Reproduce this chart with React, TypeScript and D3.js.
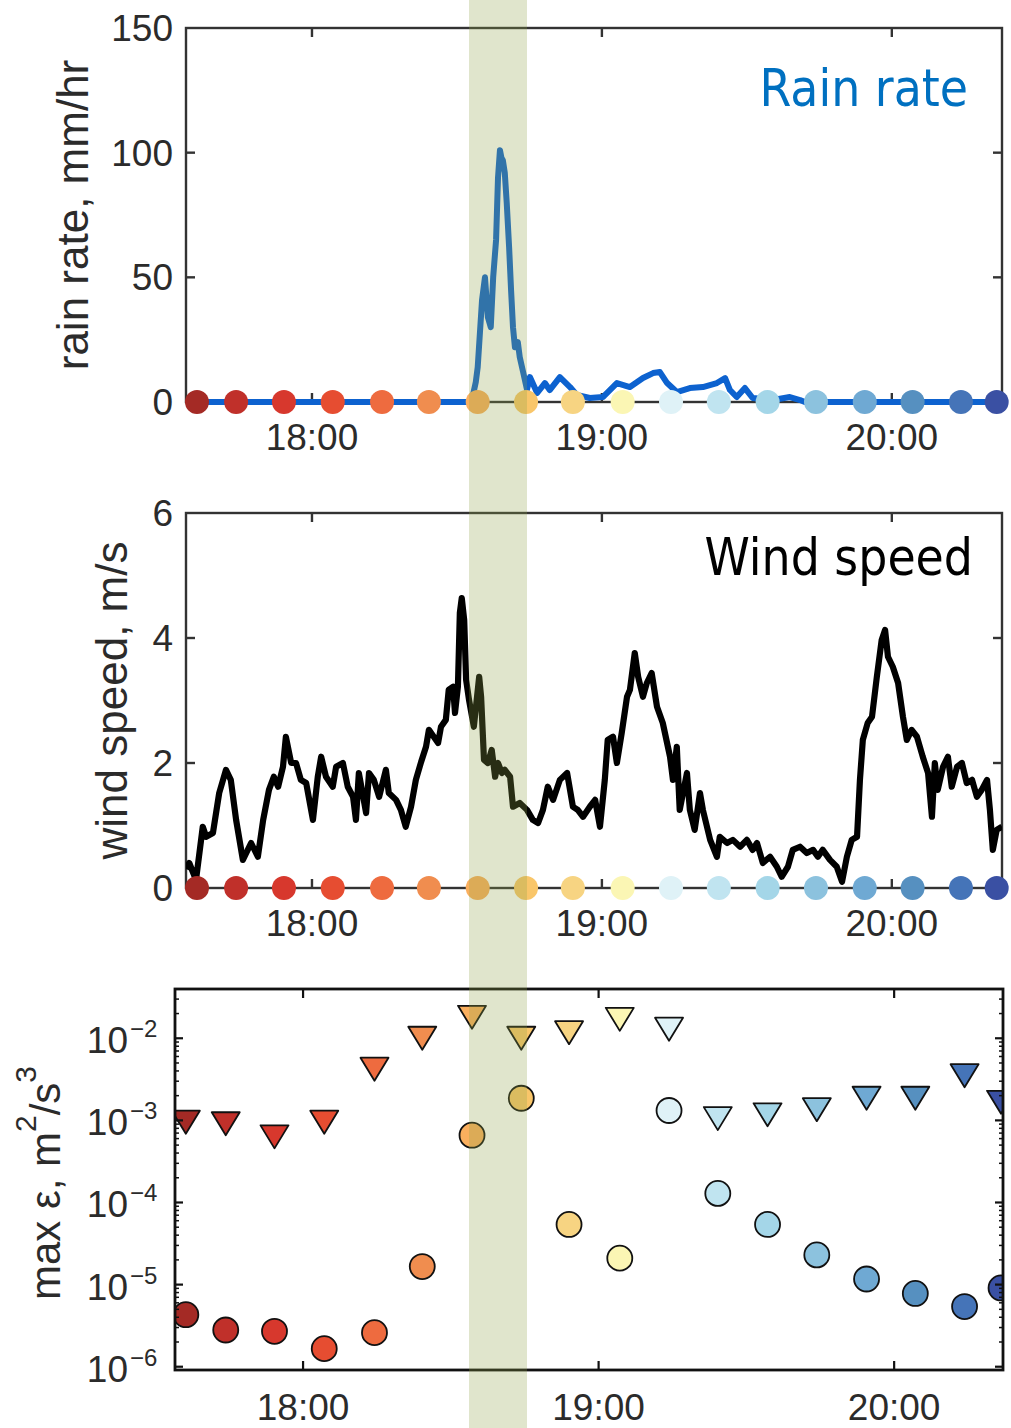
import React from 'react';
import * as d3 from 'd3';

// ---------- data (times in minutes after 18:00) ----------
const hourTicks = [0, 60, 120];
const hourLabels = ['18:00', '19:00', '20:00'];

const sampleTimes = [-23.8, -15.7, -5.8, 4.3, 14.5, 24.2, 34.3, 44.3, 54.0, 64.3, 74.3, 84.2, 94.3, 104.3, 114.4, 124.3, 134.3, 141.7];
const sampleColors = ['#a42a25', '#c0302a', '#d7382d', '#e64d31', '#ee6b3f', '#f08d4f', '#faaf5e', '#f9c66a', '#f7d482', '#fbf6b4', '#dff2f7', '#c0e4f0', '#a4d6e8', '#8cc2de', '#6fa9d3', '#5690c0', '#4574b8', '#3a50a3'];

const rainTimes = [-26.1, 32.6, 33.1, 33.9, 34.3, 35.2, 35.8, 36.4, 37.0, 37.5, 38.1, 38.5, 38.9, 39.2, 39.5, 39.9, 40.3, 40.8, 41.2, 41.6, 42.0, 42.6, 43.0, 43.7, 44.5, 45.1, 46.6, 48.2, 49.2, 51.3, 53.4, 54.8, 57.5, 60.2, 63.1, 65.8, 68.5, 70.6, 72.0, 73.5, 75.5, 78.2, 80.9, 83.8, 85.5, 86.5, 87.9, 89.6, 91.2, 95.4, 98.9, 101.0, 102.0, 142.8];
const rainValues = [0, 0, 0.8, 8, 14, 41, 50, 34, 30, 50, 65, 90, 101, 98, 97, 92, 80, 62, 45, 30, 22, 24, 18, 12, 5, 10, 3.6, 7.6, 4.8, 10, 6, 2.8, 1.6, 2, 7.6, 6, 9.6, 11.6, 12, 7.6, 4, 5.6, 6, 7.6, 9.6, 4.8, 2, 5.6, 1.6, 0.8, 2, 0.8, 0, 0];

const windTimes = [-26.0, -25.4, -24.0, -22.6, -21.9, -20.5, -19.2, -17.8, -16.8, -15.7, -14.3, -12.6, -11.2, -10.1, -8.9, -7.9, -7.0, -6.0, -5.4, -4.3, -3.3, -2.3, -1.2, 0.2, 1.2, 1.9, 2.9, 4.3, 5.0, 6.4, 7.4, 8.5, 9.1, 9.7, 10.6, 11.2, 11.8, 12.8, 13.9, 15.3, 15.9, 17.4, 18.4, 19.4, 20.5, 21.5, 22.6, 23.6, 24.2, 25.2, 26.1, 26.7, 27.7, 28.3, 29.2, 29.6, 30.2, 30.6, 31.0, 31.5, 31.9, 32.5, 33.5, 34.6, 35.0, 35.6, 36.4, 37.2, 37.9, 38.5, 39.3, 39.9, 41.0, 41.6, 43.0, 44.5, 45.7, 46.8, 47.8, 48.8, 49.9, 51.3, 52.8, 54.0, 55.0, 56.1, 57.5, 58.6, 59.6, 60.6, 61.2, 62.3, 63.1, 64.1, 65.2, 65.8, 66.8, 67.5, 68.5, 69.3, 70.3, 71.4, 72.6, 74.1, 74.7, 75.5, 76.1, 77.6, 78.2, 79.2, 80.3, 80.9, 82.4, 83.8, 84.4, 85.9, 87.1, 88.6, 90.0, 91.2, 92.1, 93.3, 94.8, 96.2, 97.2, 98.5, 99.5, 101.0, 102.4, 103.7, 104.7, 105.7, 107.2, 108.6, 109.7, 110.7, 111.7, 112.8, 113.4, 114.0, 115.0, 115.9, 116.9, 117.9, 118.6, 119.2, 120.2, 121.3, 122.3, 123.1, 124.1, 125.2, 126.4, 127.5, 128.3, 128.9, 129.5, 130.6, 131.6, 132.4, 133.5, 134.5, 135.5, 136.6, 137.6, 138.6, 139.7, 140.3, 140.9, 141.7, 142.8];
const windValues = [0.3, 0.4, 0.13, 0.98, 0.82, 0.88, 1.52, 1.89, 1.73, 1.09, 0.45, 0.72, 0.5, 1.09, 1.57, 1.78, 1.62, 1.94, 2.42, 2.0, 2.0, 1.73, 1.68, 1.09, 1.78, 2.1, 1.78, 1.62, 1.94, 2.0, 1.62, 1.46, 1.09, 1.84, 1.46, 1.2, 1.84, 1.73, 1.46, 1.89, 1.52, 1.41, 1.25, 0.98, 1.3, 1.73, 2.02, 2.26, 2.53, 2.42, 2.32, 2.58, 2.69, 3.17, 3.22, 2.8, 3.22, 4.4, 4.64, 4.29, 3.33, 3.01, 2.58, 3.38, 3.06, 2.05, 2.0, 2.21, 1.78, 2.0, 1.84, 1.89, 1.78, 1.3, 1.36, 1.25, 1.09, 1.04, 1.25, 1.62, 1.41, 1.73, 1.84, 1.3, 1.25, 1.14, 1.3, 1.41, 0.98, 1.73, 2.37, 2.42, 2.0, 2.48, 3.06, 3.17, 3.76, 3.38, 3.06, 3.28, 3.44, 2.9, 2.64, 2.1, 1.73, 2.26, 1.25, 1.84, 1.25, 0.93, 1.52, 1.25, 0.77, 0.5, 0.82, 0.72, 0.77, 0.66, 0.77, 0.61, 0.72, 0.4, 0.5, 0.34, 0.18, 0.34, 0.61, 0.66, 0.56, 0.61, 0.5, 0.61, 0.45, 0.34, 0.1, 0.5, 0.77, 0.82, 1.73, 2.37, 2.64, 2.74, 3.38, 3.97, 4.13, 3.7, 3.54, 3.28, 2.74, 2.37, 2.53, 2.42, 2.1, 1.84, 1.14, 2.0, 1.57, 1.94, 2.1, 1.62, 1.94, 2.0, 1.68, 1.73, 1.46, 1.57, 1.73, 1.25, 0.61, 0.93, 0.98];

// max epsilon (m^2/s^3): triangles (upper) and circles (lower)
const epsTriangles = [9.5e-4, 9.1e-4, 6.3e-4, 9.5e-4, 4.2e-3, 1.0e-2, 1.8e-2, 1.0e-2, 1.17e-2, 1.7e-2, 1.29e-2, 1.05e-3, 1.17e-3, 1.35e-3, 1.86e-3, 1.86e-3, 3.5e-3, 1.66e-3];
const epsCircles = [4.3e-6, 2.8e-6, 2.7e-6, 1.66e-6, 2.6e-6, 1.66e-5, 6.6e-4, 1.86e-3, 5.4e-5, 2.1e-5, 1.32e-3, 1.29e-4, 5.4e-5, 2.3e-5, 1.17e-5, 7.8e-6, 5.4e-6, 9.1e-6];

const rainTicks = [0, 50, 100, 150];
const windTicks = [0, 2, 4, 6];
const epsDecades = [-6, -5, -4, -3, -2];
const bandRange = [32.5, 44.5];

const TICK_FONT = "'Liberation Sans', Arial, sans-serif";
const NOTE_FONT = "'DejaVu Sans Condensed', 'DejaVu Sans', Verdana, sans-serif";
const TXT = '#2b2b2b';

export default function App() {
  const W = 1011, H = 1428;
  const topBox = { l: 186, r: 1002, t: 28, b: 402 };
  const midBox = { l: 186, r: 1002, t: 513, b: 888 };
  const botBox = { l: 175, r: 1003, t: 989, b: 1370 };

  const xTop = d3.scaleLinear().domain([-26.07, 142.8]).range([topBox.l, topBox.r]);
  const xBot = d3.scaleLinear().domain([-26.0, 142.1]).range([botBox.l, botBox.r]);
  const yRain = d3.scaleLinear().domain([0, 150]).range([topBox.b, topBox.t]);
  const yWind = d3.scaleLinear().domain([0, 6]).range([midBox.b, midBox.t]);
  const yEps = d3.scaleLog().domain([Math.pow(10, -6.04), Math.pow(10, -1.4)]).range([botBox.b, botBox.t]);

  const rainPath = d3.line<number>().x((_, i) => xTop(rainTimes[i])).y((d) => yRain(d))(rainValues) || '';
  const windPath = d3.line<number>().x((_, i) => xTop(windTimes[i])).y((d) => yWind(d))(windValues) || '';

  const minorTicks: number[] = [];
  for (let k = -7; k <= -1; k++) {
    for (let m = 2; m <= 9; m++) {
      const v = m * Math.pow(10, k);
      const [d0, d1] = yEps.domain();
      if (v > d0 && v < d1) minorTicks.push(v);
    }
  }

  const frameTop = (box: any, yScale: any, yTicks: number[], color: string) => (
    <g>
      <rect x={box.l} y={box.t} width={box.r - box.l} height={box.b - box.t} fill="none" stroke={color} strokeWidth={2.4} />
      {yTicks.filter((v) => v !== yTicks[0] && v !== yTicks[yTicks.length - 1]).map((v) => (
        <g key={'yt' + v}>
          <line x1={box.l} x2={box.l + 9} y1={yScale(v)} y2={yScale(v)} stroke={color} strokeWidth={2.4} />
          <line x1={box.r} x2={box.r - 9} y1={yScale(v)} y2={yScale(v)} stroke={color} strokeWidth={2.4} />
        </g>
      ))}
      {hourTicks.map((t) => (
        <g key={'xt' + t}>
          <line x1={xTop(t)} x2={xTop(t)} y1={box.t} y2={box.t + 9} stroke={color} strokeWidth={2.4} />
          <line x1={xTop(t)} x2={xTop(t)} y1={box.b} y2={box.b - 9} stroke={color} strokeWidth={2.4} />
        </g>
      ))}
      {yTicks.map((v) => (
        <text key={'yl' + v} x={box.l - 13} y={yScale(v) + 13} textAnchor="end" fontFamily={TICK_FONT} fontSize={37} fill={TXT}>{v}</text>
      ))}
      {hourTicks.map((t, i) => (
        <text key={'xl' + t} x={xTop(t)} y={box.b + 48} textAnchor="middle" fontFamily={TICK_FONT} fontSize={37} fill={TXT}>{hourLabels[i]}</text>
      ))}
    </g>
  );

  const dots = (yy: number) => (
    <g>
      {sampleTimes.map((t, i) => (
        <circle key={'d' + i} cx={xTop(t)} cy={yy} r={12} fill={sampleColors[i]} />
      ))}
    </g>
  );

  const triPath = (cx: number, cy: number) => {
    const w = 14, h = 11.5;
    return `M${cx - w},${cy - h}L${cx + w},${cy - h}L${cx},${cy + h}Z`;
  };

  return (
    <svg width={W} height={H} style={{ position: 'absolute', left: 0, top: 0, background: '#fff' }}>
      <defs>
        <clipPath id="clipTop"><rect x={topBox.l} y={topBox.t} width={topBox.r - topBox.l} height={topBox.b - topBox.t + 4} /></clipPath>
        <clipPath id="clipMid"><rect x={midBox.l} y={midBox.t} width={midBox.r - midBox.l} height={midBox.b - midBox.t + 4} /></clipPath>
        <clipPath id="clipBot"><rect x={botBox.l} y={botBox.t} width={botBox.r - botBox.l} height={botBox.b - botBox.t} /></clipPath>
      </defs>
      <rect x={0} y={0} width={W} height={H} fill="#fff" />

      {/* ---- Rain rate panel ---- */}
      {frameTop(topBox, yRain, rainTicks, '#333')}
      <path d={rainPath} fill="none" stroke="#0d62cf" strokeWidth={6} strokeLinejoin="round" clipPath="url(#clipTop)" />
      {dots(topBox.b)}
      <text x={topBox.l - 98} y={(topBox.t + topBox.b) / 2} transform={`rotate(-90 ${topBox.l - 98} ${(topBox.t + topBox.b) / 2})`} textAnchor="middle" fontFamily={TICK_FONT} fontSize={44} fill={TXT}>rain rate, mm/hr</text>
      <text x={968} y={106} textAnchor="end" fontFamily={NOTE_FONT} fontSize={51} fill="#0070c0">Rain rate</text>

      {/* ---- Wind speed panel ---- */}
      {frameTop(midBox, yWind, windTicks, '#333')}
      <path d={windPath} fill="none" stroke="#000" strokeWidth={6.2} strokeLinejoin="round" clipPath="url(#clipMid)" />
      {dots(midBox.b)}
      <text x={127} y={(midBox.t + midBox.b) / 2} transform={`rotate(-90 127 ${(midBox.t + midBox.b) / 2})`} textAnchor="middle" fontFamily={TICK_FONT} fontSize={44} fill={TXT}>wind speed, m/s</text>
      <text x={973} y={575} textAnchor="end" fontFamily={NOTE_FONT} fontSize={51} fill="#000">Wind speed</text>

      {/* ---- epsilon panel ---- */}
      <g clipPath="url(#clipBot)">
        {sampleTimes.map((t, i) => (
          <path key={'tr' + i} d={triPath(xBot(t), yEps(epsTriangles[i]))} fill={sampleColors[i]} stroke="#111" strokeWidth={1.8} strokeLinejoin="round" />
        ))}
        {sampleTimes.map((t, i) => (
          <circle key={'ci' + i} cx={xBot(t)} cy={yEps(epsCircles[i])} r={12.5} fill={sampleColors[i]} stroke="#111" strokeWidth={1.8} />
        ))}
      </g>
      <rect x={botBox.l} y={botBox.t} width={botBox.r - botBox.l} height={botBox.b - botBox.t} fill="none" stroke="#111" strokeWidth={2.8} />
      {epsDecades.map((k) => {
        const y = yEps(Math.pow(10, k));
        return (
          <g key={'ed' + k}>
            <line x1={botBox.l} x2={botBox.l + 8} y1={y} y2={y} stroke="#111" strokeWidth={2.2} />
            <line x1={botBox.r} x2={botBox.r - 8} y1={y} y2={y} stroke="#111" strokeWidth={2.2} />
            <text x={128} y={y + 15} textAnchor="end" fontFamily={TICK_FONT} fontSize={37} fill={TXT}>10</text>
            <text x={130} y={y - 1} textAnchor="start" fontFamily={TICK_FONT} fontSize={24} fill={TXT}>{'\u2212' + Math.abs(k)}</text>
          </g>
        );
      })}
      {minorTicks.map((v, i) => (
        <g key={'mn' + i}>
          <line x1={botBox.l} x2={botBox.l + 4} y1={yEps(v)} y2={yEps(v)} stroke="#111" strokeWidth={1.5} />
          <line x1={botBox.r} x2={botBox.r - 4} y1={yEps(v)} y2={yEps(v)} stroke="#111" strokeWidth={1.5} />
        </g>
      ))}
      {hourTicks.map((t, i) => (
        <g key={'bx' + t}>
          <line x1={xBot(t)} x2={xBot(t)} y1={botBox.t} y2={botBox.t + 9} stroke="#111" strokeWidth={2.2} />
          <line x1={xBot(t)} x2={xBot(t)} y1={botBox.b} y2={botBox.b - 9} stroke="#111" strokeWidth={2.2} />
          <text x={xBot(t)} y={botBox.b + 50} textAnchor="middle" fontFamily={TICK_FONT} fontSize={37} fill={TXT}>{hourLabels[i]}</text>
        </g>
      ))}
      <text x={60} y={1183} transform="rotate(-90 60 1183)" textAnchor="middle" fontFamily={TICK_FONT} fontSize={42} fill={TXT}>
        max ε, m<tspan dy={-24} fontSize={30}>2</tspan><tspan dy={24}>/s</tspan><tspan dy={-24} fontSize={30}>3</tspan>
      </text>

      {/* ---- highlighted interval band (overlay) ---- */}
      <rect x={xTop(bandRange[0])} y={0} width={xTop(bandRange[1]) - xTop(bandRange[0])} height={H} fill="#8fa147" fillOpacity={0.28} />
    </svg>
  );
}
